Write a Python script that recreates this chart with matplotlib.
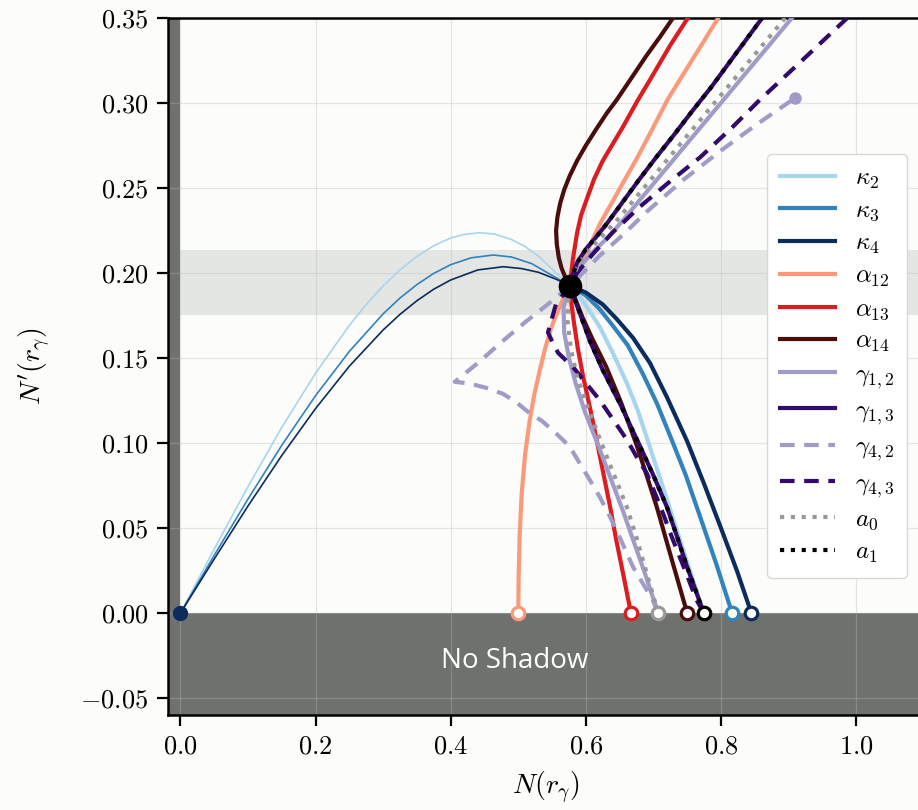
import matplotlib
matplotlib.use("Agg")
import matplotlib.pyplot as plt
from matplotlib.ticker import FuncFormatter

plt.rcParams['mathtext.fontset'] = 'cm'
plt.rcParams['font.family'] = 'serif'
plt.rcParams['font.serif'] = ['cmr10', 'DejaVu Serif']
plt.rcParams['axes.formatter.use_mathtext'] = True

# centre point (photon sphere)
cx, cy = 0.577, 0.1925

# kappa family: thin arcs from origin to centre
k2_arc_x = [0, 0.05, 0.10, 0.15, 0.20, 0.25, 0.275, 0.30, 0.325, 0.35, 0.375, 0.40, 0.42, 0.443, 0.465, 0.49, 0.51, 0.53, 0.555, 0.577]
k2_arc_y = [0, 0.0377, 0.0744, 0.1092, 0.1411, 0.1692, 0.1815, 0.1924, 0.2019, 0.2098, 0.2161, 0.2206, 0.2227, 0.2237, 0.2229, 0.2197, 0.2156, 0.2099, 0.2004, 0.1925]
k3_arc_x = [0, 0.05, 0.10, 0.15, 0.20, 0.25, 0.30, 0.325, 0.35, 0.375, 0.40, 0.43, 0.463, 0.49, 0.52, 0.55, 0.577]
k3_arc_y = [0, 0.0340, 0.0671, 0.0987, 0.1279, 0.1539, 0.1760, 0.1853, 0.1932, 0.1998, 0.2049, 0.2089, 0.2106, 0.2094, 0.2055, 0.1986, 0.1925]
k4_arc_x = [0, 0.05, 0.10, 0.15, 0.20, 0.25, 0.30, 0.325, 0.35, 0.375, 0.40, 0.44, 0.478, 0.505, 0.53, 0.555, 0.577]
k4_arc_y = [0, 0.0318, 0.0630, 0.0927, 0.1203, 0.1452, 0.1665, 0.1757, 0.1837, 0.1905, 0.1959, 0.2018, 0.2037, 0.2026, 0.2004, 0.1965, 0.1925]

# kappa family: thick branches from centre to axis
k2_x = [0.577, 0.590, 0.605, 0.621, 0.640, 0.661, 0.677, 0.692, 0.715, 0.745, 0.7746]
k2_y = [0.1925, 0.1865, 0.178, 0.168, 0.153, 0.135, 0.119, 0.101, 0.073, 0.036, 0.0]
k3_x = [0.577, 0.600, 0.620, 0.640, 0.662, 0.684, 0.705, 0.727, 0.748, 0.768, 0.793, 0.8165]
k3_y = [0.1925, 0.1868, 0.179, 0.169, 0.1575, 0.141, 0.1235, 0.102, 0.081, 0.058, 0.029, 0.0]
k4_x = [0.577, 0.600, 0.625, 0.646, 0.670, 0.695, 0.720, 0.750, 0.775, 0.800, 0.824, 0.845]
k4_y = [0.1925, 0.1885, 0.1815, 0.1728, 0.1618, 0.147, 0.127, 0.101, 0.076, 0.050, 0.0245, 0.0]

# alpha family
a12_x = [0.500, 0.5005, 0.502, 0.505, 0.510, 0.517, 0.524, 0.532, 0.540, 0.549, 0.559, 0.568, 0.577,
         0.587, 0.600, 0.621, 0.638, 0.655, 0.675, 0.695, 0.721, 0.760, 0.796]
a12_y = [0.0, 0.020, 0.045, 0.070, 0.093, 0.1135, 0.129, 0.143, 0.156, 0.168, 0.178, 0.186, 0.1925,
         0.200, 0.211, 0.229, 0.241, 0.253, 0.267, 0.282, 0.302, 0.327, 0.35]
a13_x = [0.6667, 0.655, 0.645, 0.636, 0.626, 0.616, 0.606, 0.596, 0.588, 0.582, 0.578, 0.577,
         0.578, 0.581, 0.587, 0.593, 0.601, 0.612, 0.625, 0.640, 0.655, 0.676, 0.700, 0.725, 0.751]
a13_y = [0.0, 0.0235, 0.043, 0.0624, 0.082, 0.1018, 0.121, 0.139, 0.156, 0.172, 0.184, 0.1925,
         0.1985, 0.2085, 0.2235, 0.234, 0.243, 0.255, 0.266, 0.276, 0.286, 0.301, 0.317, 0.334, 0.35]
a14_x = [0.750, 0.729, 0.705, 0.690, 0.675, 0.652, 0.630, 0.610, 0.595, 0.585, 0.577,
         0.570, 0.564, 0.560, 0.557, 0.556, 0.558, 0.562, 0.568, 0.576, 0.587, 0.600, 0.616, 0.631,
         0.646, 0.668, 0.690, 0.710, 0.729]
a14_y = [0.0, 0.029, 0.0624, 0.081, 0.099, 0.124, 0.145, 0.161, 0.174, 0.184, 0.1925,
         0.197, 0.203, 0.209, 0.217, 0.225, 0.233, 0.241, 0.249, 0.257, 0.266, 0.275, 0.285, 0.294,
         0.302, 0.315, 0.328, 0.339, 0.35]

# gamma family
g12_x = [0.7071, 0.686, 0.670, 0.655, 0.636, 0.617, 0.599, 0.585, 0.575, 0.568, 0.567, 0.577,
         0.585, 0.596, 0.612, 0.633, 0.655, 0.682, 0.710, 0.740, 0.769, 0.801, 0.855, 0.905]
g12_y = [0.0, 0.025, 0.043, 0.060, 0.080, 0.100, 0.118, 0.135, 0.150, 0.165, 0.180, 0.1925,
         0.200, 0.206, 0.213, 0.221, 0.231, 0.2439, 0.2572, 0.2715, 0.2853, 0.3005, 0.3262, 0.35]
g13_x = [0.7746, 0.750, 0.735, 0.720, 0.700, 0.678, 0.652, 0.625, 0.606, 0.591, 0.583, 0.577,
         0.580, 0.587, 0.600, 0.615, 0.631, 0.655, 0.680, 0.705, 0.730, 0.757, 0.785, 0.822, 0.861]
g13_y = [0.0, 0.027, 0.045, 0.0624, 0.081, 0.100, 0.122, 0.143, 0.160, 0.1765, 0.185, 0.1925,
         0.198, 0.206, 0.214, 0.221, 0.229, 0.242, 0.2555, 0.2685, 0.281, 0.295, 0.309, 0.329, 0.35]
g42_x = [0.7071, 0.699, 0.685, 0.670, 0.653, 0.636, 0.621, 0.606, 0.591, 0.576, 0.555, 0.535, 0.517,
         0.497, 0.477, 0.452, 0.428, 0.406, 0.440, 0.477, 0.510, 0.545, 0.577,
         0.620, 0.655, 0.690, 0.745, 0.800, 0.855, 0.910]
g42_y = [0.0, 0.0076, 0.017, 0.027, 0.042, 0.0565, 0.068, 0.0782, 0.088, 0.098, 0.106, 0.113, 0.1175,
         0.124, 0.129, 0.1325, 0.135, 0.136, 0.147, 0.160, 0.171, 0.182, 0.1925,
         0.210, 0.2225, 0.236, 0.255, 0.272, 0.288, 0.303]
g43_x = [0.7746, 0.764, 0.747, 0.729, 0.710, 0.690, 0.675, 0.661, 0.621, 0.581, 0.559, 0.551, 0.544,
         0.556, 0.577, 0.587, 0.610, 0.640, 0.680, 0.725, 0.769, 0.815, 0.858, 0.920, 0.979, 0.987]
g43_y = [0.0, 0.0076, 0.025, 0.043, 0.063, 0.0824, 0.092, 0.1018, 0.125, 0.1447, 0.153, 0.159, 0.165,
         0.182, 0.1925, 0.200, 0.211, 0.224, 0.239, 0.254, 0.268, 0.285, 0.302, 0.325, 0.347, 0.35]

# reference curves a0, a1
a0_x = [0.7071, 0.690, 0.676, 0.661, 0.642, 0.623, 0.604, 0.587, 0.578, 0.573, 0.574, 0.577,
        0.583, 0.591, 0.605, 0.625, 0.646, 0.672, 0.699, 0.729, 0.759, 0.790, 0.840, 0.895]
a0_y = [0.0, 0.0235, 0.043, 0.062, 0.081, 0.100, 0.120, 0.139, 0.155, 0.172, 0.184, 0.1925,
        0.200, 0.206, 0.214, 0.222, 0.231, 0.2434, 0.2563, 0.2707, 0.285, 0.2998, 0.3237, 0.35]
a1_x = g13_x
a1_y = g13_y

# end points on the axis
end_x = [0.5, 0.6667, 0.7071, 0.75, 0.7746, 0.8165, 0.845]
end_colors = ['#fb9a7a', '#dc1c20', '#999999', '#4b0c0c', 'black', '#3182bd', '#0b2c5c']

c_k2, c_k3, c_k4 = '#a8d5ee', '#3182bd', '#0b2c5c'
c_a12, c_a13, c_a14 = '#fb9a7a', '#dc1c20', '#4b0c0c'
c_g2, c_g3 = '#9f9cc9', '#33096b'

fig = plt.figure(figsize=(9.18, 8.10), dpi=100, facecolor='#fcfdfb')
ax = fig.add_axes([168 / 918, 95 / 810, 755.6 / 918, 697 / 810])
ax.set_facecolor('#fcfdfb')
xmin, xmax, ymin, ymax = -0.0185, 1.1, -0.06, 0.35

# shaded regions
ax.axhspan(ymin, 0, color='#6f716c', zorder=0, lw=0)
ax.axvspan(xmin, 0, color='#6f716c', zorder=0, lw=0)
ax.fill_between([0, xmax], 0.1755, 0.2135, color='#e4e6e3', zorder=0, lw=0)
ax.grid(True, color='#b8b8b8', alpha=0.35, lw=0.9, zorder=0.5)
ax.set_axisbelow(True)

lw = 3.0
dash = (0, (3.5, 2.3))
dot = (0, (1, 1.6))
ax.plot(k2_arc_x, k2_arc_y, color=c_k2, lw=1.2, zorder=2)
ax.plot(k3_arc_x, k3_arc_y, color=c_k3, lw=1.2, zorder=2)
ax.plot(k4_arc_x, k4_arc_y, color=c_k4, lw=1.2, zorder=2)
ax.plot(k2_x, k2_y, color=c_k2, lw=lw, label=r'$\kappa_2$', zorder=3)
ax.plot(k3_x, k3_y, color=c_k3, lw=lw, label=r'$\kappa_3$', zorder=3)
ax.plot(k4_x, k4_y, color=c_k4, lw=lw, label=r'$\kappa_4$', zorder=3)
ax.plot(a12_x, a12_y, color=c_a12, lw=lw, label=r'$\alpha_{12}$', zorder=3)
ax.plot(a13_x, a13_y, color=c_a13, lw=lw, label=r'$\alpha_{13}$', zorder=3)
ax.plot(a14_x, a14_y, color=c_a14, lw=lw, label=r'$\alpha_{14}$', zorder=3)
ax.plot(g12_x, g12_y, color=c_g2, lw=lw, label=r'$\gamma_{1,2}$', zorder=3)
ax.plot(g13_x, g13_y, color=c_g3, lw=lw, label=r'$\gamma_{1,3}$', zorder=3)
ax.plot(g42_x, g42_y, color=c_g2, lw=lw, ls=dash, label=r'$\gamma_{4,2}$', zorder=3)
ax.plot(g43_x, g43_y, color=c_g3, lw=lw, ls=dash, label=r'$\gamma_{4,3}$', zorder=3)
ax.plot(a0_x, a0_y, color='#999999', lw=lw, ls=dot, label=r'$a_0$', zorder=3.5)
ax.plot(a1_x, a1_y, color='black', lw=lw, ls=dot, label=r'$a_1$', zorder=3.5)

# markers
for x, c in zip(end_x, end_colors):
    ax.plot(x, 0, 'o', ms=9, mfc='white', mec=c, mew=2.3, zorder=5, clip_on=False)
ax.plot(0, 0, 'o', ms=10, color=c_k4, zorder=5)
ax.plot(g42_x[-1], g42_y[-1], 'o', ms=8, color=c_g2, zorder=5)
ax.plot(cx, cy, 'o', ms=16, color='black', zorder=6)

ax.text(0.495, -0.028, 'No Shadow', color='white', fontsize=20, family='Open Sans',
        ha='center', va='center', zorder=4)

ax.set_xlim(xmin, xmax)
ax.set_ylim(ymin, ymax)
ax.set_xticks([0, 0.2, 0.4, 0.6, 0.8, 1.0])
ax.set_yticks([-0.05, 0, 0.05, 0.10, 0.15, 0.20, 0.25, 0.30, 0.35])
ax.xaxis.set_major_formatter(FuncFormatter(lambda v, p: f'${v:.1f}$'))
ax.yaxis.set_major_formatter(FuncFormatter(lambda v, p: f'${v:.2f}$'))
ax.tick_params(direction='out', length=8, width=1.6, labelsize=19, pad=6)
for s in ax.spines.values():
    s.set_linewidth(1.8)
ax.set_xlabel(r'$N(r_\gamma)$', fontsize=20, labelpad=8)
ax.set_ylabel(r"$N'(r_\gamma)$", fontsize=20, labelpad=20)

leg = ax.legend(loc='center right', bbox_to_anchor=(907 / 918, 1 - 366 / 810),
                bbox_transform=fig.transFigure, fontsize=18, handlelength=2.2,
                labelspacing=0.36, frameon=True, fancybox=True, framealpha=1,
                edgecolor='#d8d8d8', borderpad=0.5, borderaxespad=0)
leg.set_zorder(10)

fig.savefig('out.png', dpi=100, facecolor=fig.get_facecolor())
